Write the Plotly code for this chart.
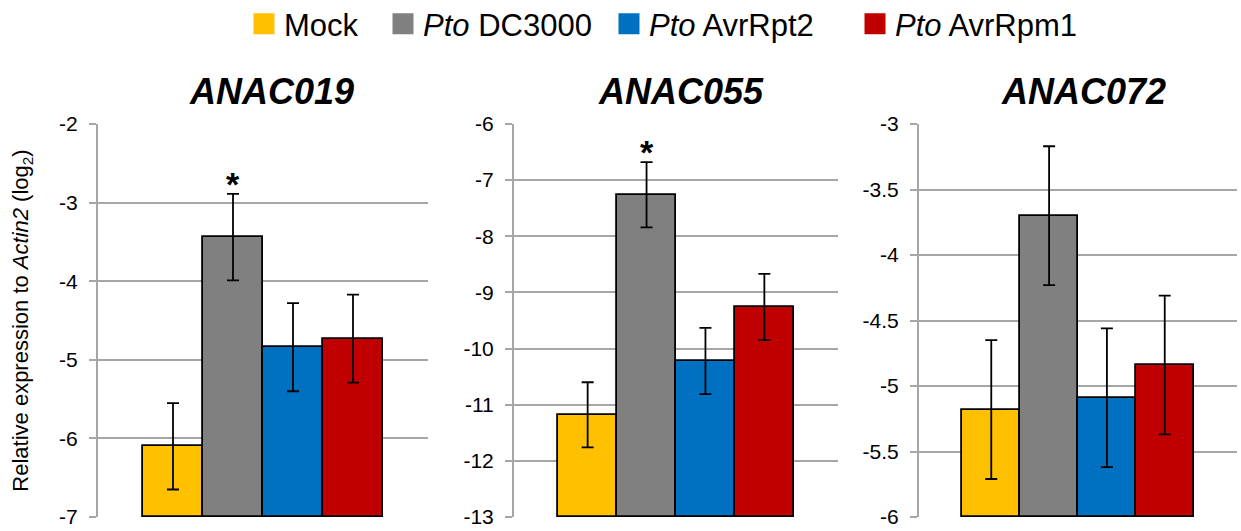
import plotly.graph_objects as go

# ---------------- data ----------------
series = ["Mock", "Pto DC3000", "Pto AvrRpt2", "Pto AvrRpm1"]
series_labels = ["Mock", "<i>Pto</i> DC3000", "<i>Pto</i> AvrRpt2", "<i>Pto</i> AvrRpm1"]
colors = ["#FFC000", "#808080", "#0070C0", "#C00000"]

genes = ["ANAC019", "ANAC055", "ANAC072"]

anac019_mean = [-6.10, -3.44, -4.84, -4.73]
anac019_err = [0.55, 0.55, 0.56, 0.56]
anac055_mean = [-11.18, -7.26, -10.22, -9.26]
anac055_err = [0.58, 0.58, 0.59, 0.59]
anac072_mean = [-5.18, -3.70, -5.09, -4.84]
anac072_err = [0.53, 0.53, 0.53, 0.53]

anac019_ticks = [-2, -3, -4, -5, -6, -7]
anac019_ticktext = ["-2", "-3", "-4", "-5", "-6", "-7"]
anac055_ticks = [-6, -7, -8, -9, -10, -11, -12, -13]
anac055_ticktext = ["-6", "-7", "-8", "-9", "-10", "-11", "-12", "-13"]
anac072_ticks = [-3, -3.5, -4, -4.5, -5, -5.5, -6]
anac072_ticktext = ["-3", "-3.5", "-4", "-4.5", "-5", "-5.5", "-6"]

significant = [[False, True, False, False],
               [False, True, False, False],
               [False, False, False, False]]

# ---------------- figure ----------------
W, H = 1241, 531
FONT = "Liberation Sans, Arial, sans-serif"
GRID = "#a6a6a6"

means = [anac019_mean, anac055_mean, anac072_mean]
errs = [anac019_err, anac055_err, anac072_err]
ticks = [anac019_ticks, anac055_ticks, anac072_ticks]
ticktexts = [anac019_ticktext, anac055_ticktext, anac072_ticktext]

x_domains_px = [(98, 428), (514, 838), (919, 1237)]
y_top_px, y_bot_px = 124, 517

fig = go.Figure()

for p in range(3):
    xa = "x" if p == 0 else f"x{p+1}"
    ya = "y" if p == 0 else f"y{p+1}"
    base = min(ticks[p])
    for s in range(4):
        fig.add_trace(go.Bar(
            x=[series[s]],
            y=[means[p][s] - base],
            base=[base],
            marker=dict(color=colors[s], line=dict(color="#000000", width=1.8)),
            error_y=dict(type="data", array=[errs[p][s]], color="#000000",
                         thickness=1.8, width=6),
            name=series_labels[s],
            legendgroup=series[s],
            showlegend=False,
            xaxis=xa, yaxis=ya,
            hovertemplate=f"{genes[p]}<br>{series[s]}: %{{customdata}}<extra></extra>",
            customdata=[means[p][s]],
        ))
        if significant[p][s]:
            fig.add_annotation(
                x=series[s], y=means[p][s] + errs[p][s], xref=xa, yref=ya,
                text="<b>*</b>", showarrow=False, yanchor="middle", yshift=10,
                font=dict(size=34, family=FONT, color="#000000"),
            )

# legend entries (one legend per entry for exact placement)
legend_x_px = [244, 383, 609, 855]
legend_names = ["legend", "legend2", "legend3", "legend4"]
for s in range(4):
    fig.add_trace(go.Scatter(
        x=[None], y=[None], mode="markers",
        marker=dict(symbol="square", size=16, color=colors[s],
                    line=dict(color=colors[s], width=5)),
        name=series_labels[s], legendgroup=series[s], showlegend=True,
        legend=legend_names[s], hoverinfo="skip",
    ))

layout = dict(
    width=W, height=H,
    margin=dict(l=0, r=0, t=0, b=0, autoexpand=False),
    paper_bgcolor="white", plot_bgcolor="white",
    barmode="overlay", bargap=0,
    font=dict(family=FONT, color="#000000"),
)

for s in range(4):
    layout[legend_names[s]] = dict(
        x=legend_x_px[s] / W, xanchor="left",
        y=(H - 24) / H, yanchor="middle",
        orientation="h", bgcolor="rgba(0,0,0,0)", borderwidth=0,
        font=dict(size=31, family=FONT, color="#000000"),
    )

for p in range(3):
    xk = "xaxis" if p == 0 else f"xaxis{p+1}"
    yk = "yaxis" if p == 0 else f"yaxis{p+1}"
    x0, x1 = x_domains_px[p]
    layout[xk] = dict(
        domain=[x0 / W, x1 / W], anchor="y" if p == 0 else f"y{p+1}",
        type="category", categoryorder="array", categoryarray=series,
        range=[-1.25, 4.25], showticklabels=False, ticks="",
        showgrid=False, zeroline=False, showline=False, fixedrange=True,
    )
    layout[yk] = dict(
        domain=[(H - y_bot_px) / H, (H - y_top_px) / H],
        anchor="x" if p == 0 else f"x{p+1}",
        range=[min(ticks[p]), max(ticks[p])],
        tickmode="array", tickvals=ticks[p], ticktext=ticktexts[p],
        ticks="outside", ticklen=7, tickwidth=2, tickcolor=GRID,
        ticklabelstandoff=7,
        showgrid=True, gridcolor=GRID, gridwidth=2,
        showline=True, linecolor=GRID, linewidth=2,
        zeroline=False, fixedrange=True,
        tickfont=dict(size=21, family=FONT, color="#000000"),
    )

layout["yaxis"]["title"] = dict(
    text="Relative expression to <i>Actin2</i> (log<sub>2</sub>)",
    font=dict(size=22, family=FONT, color="#000000"), standoff=24,
)

fig.update_layout(**layout)

title_centers_px = [271, 681, 1083]
for p in range(3):
    fig.add_annotation(
        x=title_centers_px[p] / W, y=(H - 91) / H, xref="paper", yref="paper",
        text=f"<b><i>{genes[p]}</i></b>", showarrow=False,
        xanchor="center", yanchor="middle",
        font=dict(size=36, family=FONT, color="#000000"),
    )

fig.write_html("out.html")
